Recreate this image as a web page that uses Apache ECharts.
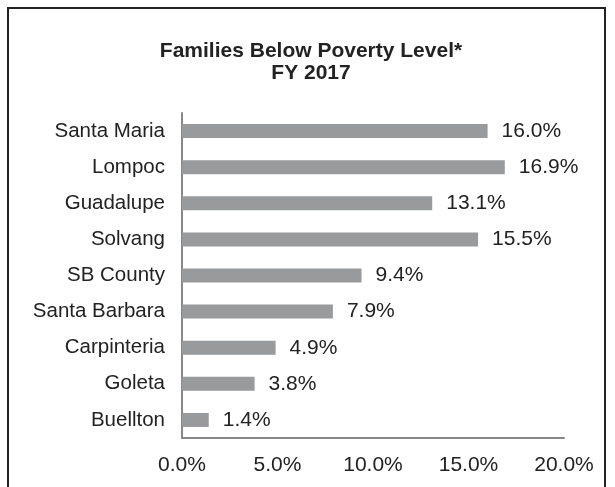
<!DOCTYPE html>
<html><head><meta charset="utf-8">
<script src="https://cdn.jsdelivr.net/npm/echarts@6/dist/echarts.min.js"></script>
<style>html,body{margin:0;padding:0;background:#fff}#c{width:615px;height:487px}</style>
</head><body><div id="c"></div>
<script>
var categories = ["Santa Maria","Lompoc","Guadalupe","Solvang","SB County","Santa Barbara","Carpinteria","Goleta","Buellton"];
var values = [16.0,16.9,13.1,15.5,9.4,7.9,4.9,3.8,1.4];
var xTicks = [0,5,10,15,20];
var chart = echarts.init(document.getElementById('c'), null, {renderer:'canvas'});
var font = 'Liberation Sans, Arial, sans-serif';
chart.setOption({
  animation:false,
  backgroundColor:'#fff',
  title:{text:'Families Below Poverty Level*\nFY 2017', left:306, textAlign:'center', top:35,
    textStyle:{fontFamily:font, fontSize:21, fontWeight:'bold', color:'#222', lineHeight:22}},
  graphic:[{type:'rect', shape:{x:8,y:8,width:597,height:500}, style:{fill:null, stroke:'#222', lineWidth:2}, silent:true}],
  grid:{left:182, right:51, top:113, bottom:49},
  xAxis:{type:'value', min:xTicks[0], max:xTicks[xTicks.length-1], interval:5,
    axisLine:{show:true, lineStyle:{color:'#888', width:2}}, axisTick:{show:false}, splitLine:{show:false},
    axisLabel:{margin:17, fontFamily:font, fontSize:21, color:'#222', formatter:function(v){return v.toFixed(1)+'%';}}},
  yAxis:{type:'category', data:categories, inverse:true,
    axisLine:{show:true, lineStyle:{color:'#888', width:2}}, axisTick:{show:false},
    axisLabel:{margin:17, fontFamily:font, fontSize:20.5, color:'#222'}},
  series:[{type:'bar', data:values, barWidth:14, itemStyle:{color:'#999a9c'},
    label:{show:true, position:'right', distance:14, fontFamily:font, fontSize:21, color:'#222',
      formatter:function(p){return p.value.toFixed(1)+'%';}}}]
});
</script></body></html>
